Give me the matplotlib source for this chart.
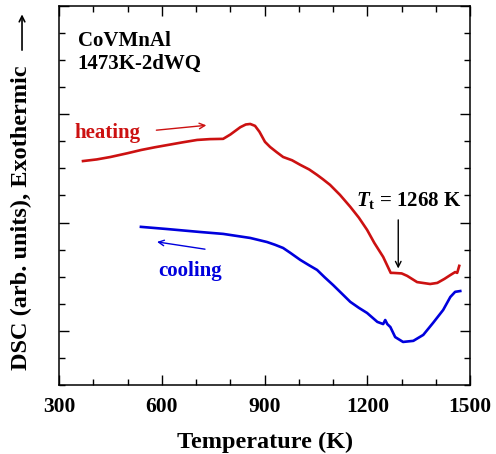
import matplotlib
matplotlib.use("Agg")
import matplotlib.pyplot as plt
from matplotlib.ticker import MultipleLocator, FixedLocator, NullFormatter

plt.rcParams['font.family'] = ['Liberation Serif', 'DejaVu Serif']
plt.rcParams['font.weight'] = 'bold'
plt.rcParams['mathtext.fontset'] = 'custom'
plt.rcParams['mathtext.rm'] = 'Liberation Serif:bold'
plt.rcParams['mathtext.it'] = 'Liberation Serif:italic:bold'
plt.rcParams['mathtext.bf'] = 'Liberation Serif:bold'

heat_T = [370, 410, 450, 500, 540, 580, 620, 660, 703, 740, 779, 800, 829, 845, 858, 872, 885,
          901, 916, 935, 954, 980, 1004, 1030, 1053, 1070, 1091, 1120, 1150, 1175, 1199, 1220,
          1246, 1268, 1275, 1300, 1316, 1345, 1383, 1404, 1425, 1442, 1456, 1462, 1468]
heat_v = [8.27, 8.33, 8.42, 8.56, 8.68, 8.78, 8.87, 8.96, 9.05, 9.08, 9.09, 9.25, 9.52, 9.62, 9.64,
          9.57, 9.35, 8.98, 8.79, 8.60, 8.42, 8.30, 8.13, 7.96, 7.76, 7.60, 7.39, 7.02, 6.58, 6.18,
          5.73, 5.25, 4.73, 4.14, 4.14, 4.12, 4.03, 3.80, 3.73, 3.77, 3.92, 4.06, 4.17, 4.14, 4.40]

cool_T = [539, 615, 712, 779, 858, 907, 930, 954, 975, 1004, 1030, 1053, 1075, 1100, 1125, 1150,
          1175, 1199, 1229, 1246, 1252, 1258, 1267, 1281, 1304, 1334, 1363, 1392, 1421, 1442,
          1456, 1471]
cool_v = [5.84, 5.76, 5.65, 5.58, 5.43, 5.28, 5.18, 5.06, 4.88, 4.62, 4.42, 4.25, 3.98, 3.69, 3.38,
          3.07, 2.85, 2.66, 2.33, 2.25, 2.40, 2.25, 2.14, 1.77, 1.59, 1.63, 1.85, 2.30, 2.77, 3.25,
          3.44, 3.47]

x_ticks = [300, 600, 900, 1200, 1500]

red = '#CC1111'
blue = '#0000DD'

fig = plt.figure(figsize=(4.96, 4.54), dpi=100)
ax = fig.add_axes([0.119, 0.152, 0.829, 0.835])
ax.plot(heat_T, heat_v, color=red, lw=1.9)
ax.plot(cool_T, cool_v, color=blue, lw=1.9)

ax.set_xlim(300, 1500)
ax.set_ylim(0, 14)
ax.xaxis.set_major_locator(FixedLocator(x_ticks))
ax.xaxis.set_minor_locator(MultipleLocator(100))
ax.yaxis.set_major_locator(FixedLocator([2, 6, 10, 14]))
ax.yaxis.set_minor_locator(MultipleLocator(1))
ax.yaxis.set_major_formatter(NullFormatter())
ax.tick_params(which='both', direction='in', top=True, right=True, width=1)
ax.tick_params(which='major', length=7, labelsize=15.5, pad=9)
ax.tick_params(which='minor', length=4)
for lab in ax.get_xticklabels():
    lab.set_fontweight('bold')
for s in ax.spines.values():
    s.set_linewidth(1.1)

ax.set_xlabel('Temperature (K)', fontsize=17.5, fontweight='bold', labelpad=10)
ax.set_ylabel('DSC (arb. units), Exothermic', fontsize=17.5, fontweight='bold')
ax.yaxis.set_label_coords(-0.066, 0.44)
ax.annotate('', xy=(-0.09, 0.985), xytext=(-0.09, 0.876), xycoords='axes fraction',
            arrowprops=dict(arrowstyle='->', color='black', lw=1.2), annotation_clip=False)

ax.text(0.045, 0.895, 'CoVMnAl', transform=ax.transAxes, fontsize=15, fontweight='bold')
ax.text(0.045, 0.835, '1473K-2dWQ', transform=ax.transAxes, fontsize=15, fontweight='bold')

ax.text(345, 9.3, 'heating', color=red, fontsize=15, fontweight='bold', va='center')
ax.annotate('', xy=(738, 9.6), xytext=(576, 9.4),
            arrowprops=dict(arrowstyle='->', color=red, lw=1.0))

ax.text(590, 4.2, 'cooling', color=blue, fontsize=15, fontweight='bold', va='center')
ax.annotate('', xy=(578, 5.3), xytext=(734, 5.0),
            arrowprops=dict(arrowstyle='->', color=blue, lw=1.0))

ax.text(1167, 6.8, r'$T_{\mathrm{t}}$ = 1268 K', fontsize=15, fontweight='bold', va='center')
ax.annotate('', xy=(1290, 4.2), xytext=(1290, 6.2),
            arrowprops=dict(arrowstyle='->', color='black', lw=1.0))

fig.savefig('out.png', dpi=100)
